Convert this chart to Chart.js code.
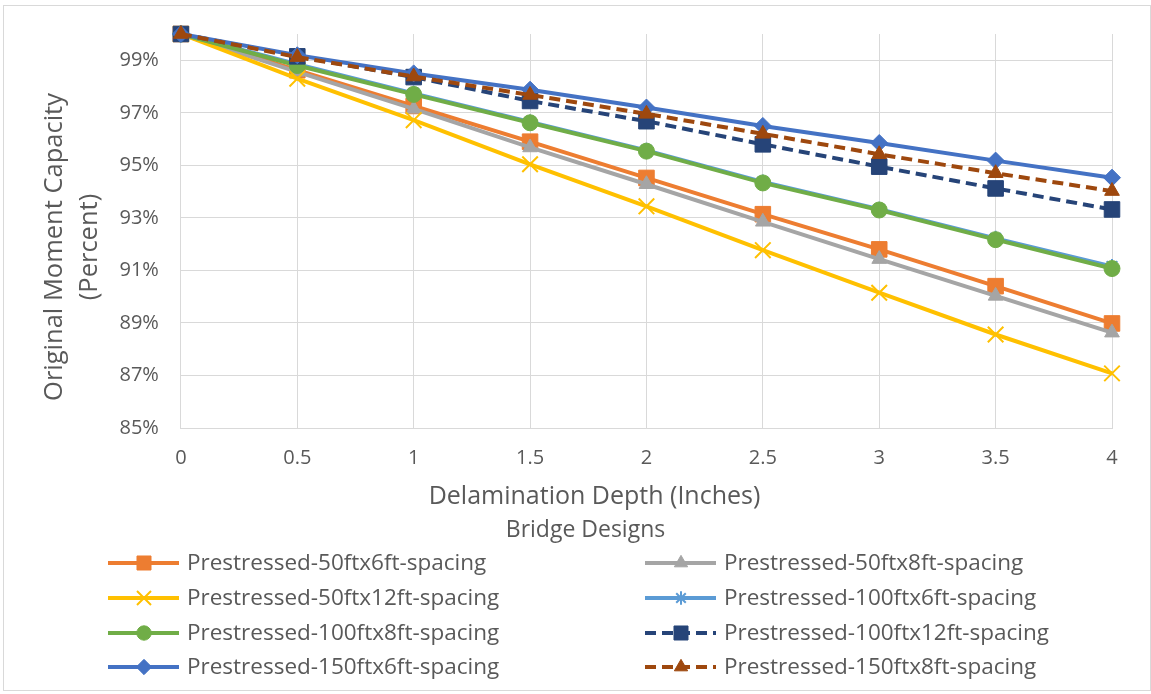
<!DOCTYPE html>
<html>
<head>
<meta charset="utf-8">
<script src="https://cdn.jsdelivr.net/npm/chart.js@4/dist/chart.umd.min.js"></script>
<style>
  body { margin: 0; background: #fff; }
  #wrap { position: relative; width: 1151px; height: 694px; }
  #frame { position: absolute; left: 3px; top: 5px; width: 1146px; height: 684px; border: 1px solid #d9d9d9; pointer-events: none; }
</style>
</head>
<body>
<div id="wrap">
  <canvas id="chart" width="1151" height="694"></canvas>
  <div id="frame"></div>
</div>
<script>
// delamination depth in inches
const depths = ['0', '0.5', '1', '1.5', '2', '2.5', '3', '3.5', '4'];

// remaining moment capacity, percent of original
const p50x6 = [100, 98.62, 97.26, 95.9, 94.52, 93.14, 91.8, 90.4, 88.98];
const p50x8 = [100, 98.56, 97.15, 95.68, 94.28, 92.85, 91.43, 90.03, 88.63];
const p50x12 = [100, 98.3, 96.72, 95.04, 93.44, 91.77, 90.15, 88.56, 87.08];
const p100x6 = [100, 98.85, 97.74, 96.65, 95.57, 94.37, 93.33, 92.22, 91.15];
const p100x8 = [100, 98.8, 97.7, 96.62, 95.54, 94.33, 93.3, 92.17, 91.07];
const p100x12 = [100, 99.15, 98.36, 97.45, 96.68, 95.8, 94.95, 94.12, 93.32];
const p150x6 = [100, 99.19, 98.5, 97.88, 97.2, 96.5, 95.85, 95.18, 94.53];
const p150x8 = [100, 99.12, 98.38, 97.68, 96.96, 96.2, 95.42, 94.7, 94.02];

const yTicks = [85, 87, 89, 91, 93, 95, 97, 99];

const xTitle = 'Delamination Depth (Inches)';
const yTitle = ['Original Moment Capacity', '(Percent)'];
const legendTitle = 'Bridge Designs';

const FONT = '"Open Sans", "DejaVu Sans", sans-serif';
const TEXT = '#595959';

function series(label, data, color, style, radius, dashed) {
  return {
    label: label,
    data: data,
    borderColor: color,
    backgroundColor: color,
    borderWidth: 4,
    borderDash: dashed ? [11, 6] : [],
    pointStyle: style,
    pointRadius: radius,
    pointBorderWidth: (style === 'crossRot' || style === 'star') ? 2 : 1,
    pointBackgroundColor: color,
    pointBorderColor: color,
    tension: 0,
    clip: false
  };
}

const datasets = [
  series('Prestressed-50ftx6ft-spacing', p50x6, '#ED7D31', 'rect', 11, false),
  series('Prestressed-50ftx8ft-spacing', p50x8, '#A5A5A5', 'triangle', 8.5, false),
  series('Prestressed-50ftx12ft-spacing', p50x12, '#FFC000', 'crossRot', 11, false),
  series('Prestressed-100ftx6ft-spacing', p100x6, '#5B9BD5', 'star', 7.5, false),
  series('Prestressed-100ftx8ft-spacing', p100x8, '#70AD47', 'circle', 8, false),
  series('Prestressed-100ftx12ft-spacing', p100x12, '#264478', 'rect', 11, true),
  series('Prestressed-150ftx6ft-spacing', p150x6, '#4472C4', 'rectRot', 8.5, false),
  series('Prestressed-150ftx8ft-spacing', p150x8, '#9E480E', 'triangle', 8.5, true)
];
// later series sit on top
datasets.forEach((d, i) => { d.order = datasets.length - i; });

// axis titles plus a two-column legend below them
const titlesAndLegend = {
  id: 'titlesAndLegend',
  afterDraw(chart) {
    const ctx = chart.ctx;
    const area = chart.chartArea;
    const cx = chart.width / 2;
    ctx.save();
    ctx.fillStyle = TEXT;
    ctx.textAlign = 'center';
    ctx.textBaseline = 'middle';

    ctx.font = '25px ' + FONT;
    ctx.fillText(xTitle, cx + 19, area.bottom + 69);

    ctx.save();
    ctx.translate(55, area.bottom - 181);
    ctx.rotate(-Math.PI / 2);
    ctx.font = '25.5px ' + FONT;
    yTitle.forEach((line, i) => ctx.fillText(line, 0, i * 35));
    ctx.restore();

    ctx.font = '23px ' + FONT;
    ctx.fillText(legendTitle, cx + 10, 530);

    const cols = [108, 645];
    const rows = [563, 598, 633, 667];
    ctx.font = '22.5px ' + FONT;
    ctx.textAlign = 'left';
    chart.data.datasets.forEach((ds, i) => {
      const x = cols[i % 2];
      const y = rows[Math.floor(i / 2)];
      ctx.strokeStyle = ds.borderColor;
      ctx.lineWidth = 4;
      ctx.setLineDash(ds.borderDash);
      ctx.beginPath();
      ctx.moveTo(x, y);
      ctx.lineTo(x + 71, y);
      ctx.stroke();
      ctx.setLineDash([]);
      ctx.fillStyle = ds.pointBackgroundColor;
      ctx.strokeStyle = ds.pointBorderColor;
      ctx.lineWidth = ds.pointBorderWidth;
      Chart.helpers.drawPoint(ctx, {
        pointStyle: ds.pointStyle,
        radius: ds.pointRadius * 0.9,
        rotation: 0,
        borderWidth: ds.pointBorderWidth
      }, x + 36, y);
      ctx.fillStyle = TEXT;
      ctx.fillText(ds.label, x + 79, y + 1);
    });
    ctx.restore();
  }
};

new Chart(document.querySelector('#chart').getContext('2d'), {
  type: 'line',
  data: { labels: depths, datasets: datasets },
  plugins: [titlesAndLegend],
  options: {
    responsive: false,
    animation: false,
    layout: { padding: { left: 97.5, right: 39, top: 32, bottom: 206 } },
    plugins: { legend: { display: false }, tooltip: { enabled: false } },
    scales: {
      x: {
        grid: { color: '#d9d9d9', drawTicks: false },
        border: { color: '#d9d9d9' },
        ticks: { color: TEXT, font: { family: FONT, size: 20 }, padding: 18, maxRotation: 0 }
      },
      y: {
        min: 85,
        max: 100,
        afterBuildTicks(scale) {
          scale.ticks = yTicks.map(v => ({ value: v }));
        },
        grid: { color: '#d9d9d9', drawTicks: false },
        border: { color: '#d9d9d9' },
        ticks: {
          color: TEXT,
          font: { family: FONT, size: 20 },
          padding: 22,
          callback: v => v + '%'
        }
      }
    }
  }
});
</script>
</body>
</html>
